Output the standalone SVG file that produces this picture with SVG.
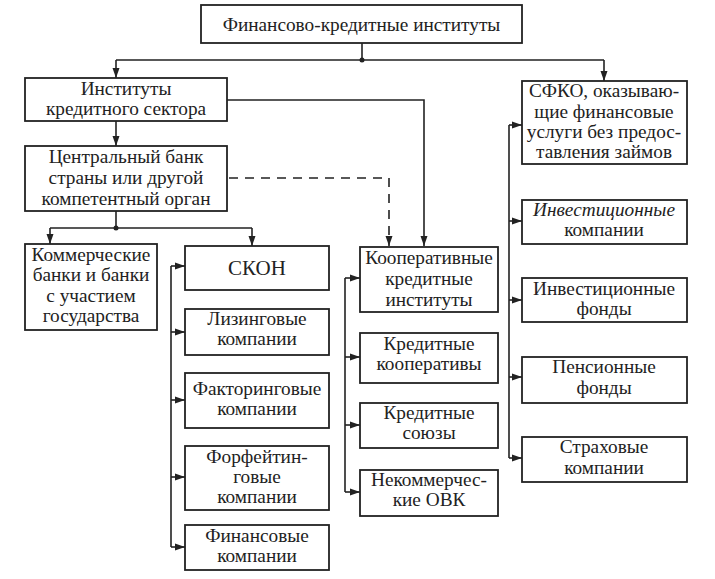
<svg xmlns="http://www.w3.org/2000/svg" width="715" height="579" viewBox="0 0 715 579">
<style>
rect.n{fill:#fff;stroke:#222;stroke-width:1.8}
.c path{fill:none;stroke:#222;stroke-width:1.6}
.c path.a{marker-end:url(#ah)}
.c path.d{stroke-dasharray:9 7}
</style>
<defs>
<marker id="ah" markerUnits="userSpaceOnUse" markerWidth="10" markerHeight="10" viewBox="0 0 10 10" refX="10" refY="5" orient="auto">
<path d="M0,1.5 L10,5 L0,8.5 Z" fill="#222"/>
</marker>
</defs>
<rect width="715" height="579" fill="#fff"/>
<g class="c" id="connectors">
<path d="M362,43 V60 M116,60 H604"/>
<path class="a" d="M116,60 V78"/>
<path class="a" d="M604,60 V81"/>
<circle cx="362" cy="60" r="2.5" fill="#222"/>
<path class="a" d="M227,100 H424 V246"/>
<path class="a" d="M116,121 V146"/>
<path class="a d" d="M229,178 H389 V246"/>
<path d="M116,211 V228 M50,228 H252"/>
<path class="a" d="M50,228 V244"/>
<path class="a" d="M252,228 V246"/>
<circle cx="116" cy="228" r="2.5" fill="#222"/>
<path d="M171,266 V547"/>
<path class="a" d="M171,266 H185"/>
<path class="a" d="M171,332 H185"/>
<path class="a" d="M171,400 H185"/>
<path class="a" d="M171,477 H185"/>
<path class="a" d="M171,547 H185"/>
<path d="M345,278 V492"/>
<path class="a" d="M345,278 H360"/>
<path class="a" d="M345,357 H360"/>
<path class="a" d="M345,425 H360"/>
<path class="a" d="M345,492 H360"/>
<path d="M509,125 V458"/>
<path class="a" d="M509,125 H522"/>
<path class="a" d="M509,221 H522"/>
<path class="a" d="M509,300 H522"/>
<path class="a" d="M509,377 H522"/>
<path class="a" d="M509,458 H522"/>
</g>
<g id="n-top"><rect class="n" x="201" y="5" width="321" height="38"/><text font-family="Liberation Serif" font-size="19.3" fill="#222" text-anchor="middle" x="361.5" y="31">Финансово-кредитные институты</text></g>
<g id="n-inst"><rect class="n" x="25" y="78" width="202" height="43"/><text font-family="Liberation Serif" font-size="19.3" fill="#222" text-anchor="middle" x="126" y="95">Институты</text><text font-family="Liberation Serif" font-size="19.3" fill="#222" text-anchor="middle" x="126" y="115">кредитного сектора</text></g>
<g id="n-cb"><rect class="n" x="25" y="146" width="202" height="65"/><text font-family="Liberation Serif" font-size="19.3" fill="#222" text-anchor="middle" x="126" y="163">Центральный банк</text><text font-family="Liberation Serif" font-size="19.3" fill="#222" text-anchor="middle" x="126" y="184">страны или другой</text><text font-family="Liberation Serif" font-size="19.3" fill="#222" text-anchor="middle" x="126" y="205">компетентный орган</text></g>
<g id="n-kom"><rect class="n" x="25" y="244" width="132" height="86"/><text font-family="Liberation Serif" font-size="19.3" fill="#222" text-anchor="middle" x="91" y="261">Коммерческие</text><text font-family="Liberation Serif" font-size="19.3" fill="#222" text-anchor="middle" x="91" y="281">банки и банки</text><text font-family="Liberation Serif" font-size="19.3" fill="#222" text-anchor="middle" x="91" y="302">с участием</text><text font-family="Liberation Serif" font-size="19.3" fill="#222" text-anchor="middle" x="91" y="322">государства</text></g>
<g id="n-skon"><rect class="n" x="185" y="246" width="144" height="44"/><text font-family="Liberation Serif" font-size="21" fill="#222" text-anchor="middle" x="257" y="275">СКОН</text></g>
<g id="n-liz"><rect class="n" x="185" y="309" width="144" height="46"/><text font-family="Liberation Serif" font-size="19.3" fill="#222" text-anchor="middle" x="257" y="325">Лизинговые</text><text font-family="Liberation Serif" font-size="19.3" fill="#222" text-anchor="middle" x="257" y="345">компании</text></g>
<g id="n-fak"><rect class="n" x="185" y="373" width="144" height="55"/><text font-family="Liberation Serif" font-size="19.3" fill="#222" text-anchor="middle" x="257" y="395">Факторинговые</text><text font-family="Liberation Serif" font-size="19.3" fill="#222" text-anchor="middle" x="257" y="415">компании</text></g>
<g id="n-for"><rect class="n" x="185" y="446" width="144" height="64"/><text font-family="Liberation Serif" font-size="19.3" fill="#222" text-anchor="middle" x="257" y="463">Форфейтин-</text><text font-family="Liberation Serif" font-size="19.3" fill="#222" text-anchor="middle" x="257" y="483">говые</text><text font-family="Liberation Serif" font-size="19.3" fill="#222" text-anchor="middle" x="257" y="503">компании</text></g>
<g id="n-fin"><rect class="n" x="185" y="525" width="144" height="45"/><text font-family="Liberation Serif" font-size="19.3" fill="#222" text-anchor="middle" x="257" y="542">Финансовые</text><text font-family="Liberation Serif" font-size="19.3" fill="#222" text-anchor="middle" x="257" y="562">компании</text></g>
<g id="n-koop"><rect class="n" x="360" y="247" width="138" height="65"/><text font-family="Liberation Serif" font-size="19.3" fill="#222" text-anchor="middle" x="429" y="264">Кооперативные</text><text font-family="Liberation Serif" font-size="19.3" fill="#222" text-anchor="middle" x="429" y="285">кредитные</text><text font-family="Liberation Serif" font-size="19.3" fill="#222" text-anchor="middle" x="429" y="306">институты</text></g>
<g id="n-kk"><rect class="n" x="360" y="333" width="138" height="50"/><text font-family="Liberation Serif" font-size="19.3" fill="#222" text-anchor="middle" x="429" y="350">Кредитные</text><text font-family="Liberation Serif" font-size="19.3" fill="#222" text-anchor="middle" x="429" y="370">кооперативы</text></g>
<g id="n-ks"><rect class="n" x="360" y="403" width="138" height="45"/><text font-family="Liberation Serif" font-size="19.3" fill="#222" text-anchor="middle" x="429" y="419">Кредитные</text><text font-family="Liberation Serif" font-size="19.3" fill="#222" text-anchor="middle" x="429" y="439">союзы</text></g>
<g id="n-ovk"><rect class="n" x="360" y="470" width="138" height="46"/><text font-family="Liberation Serif" font-size="19.3" fill="#222" text-anchor="middle" x="429" y="486">Некоммерчес-</text><text font-family="Liberation Serif" font-size="19.3" fill="#222" text-anchor="middle" x="429" y="506">кие ОВК</text></g>
<g id="n-sfko"><rect class="n" x="522" y="81" width="165" height="83"/><text font-family="Liberation Serif" font-size="19.3" fill="#222" text-anchor="middle" x="604" y="97">СФКО, оказываю-</text><text font-family="Liberation Serif" font-size="19.3" fill="#222" text-anchor="middle" x="604" y="118">щие финансовые</text><text font-family="Liberation Serif" font-size="19.3" fill="#222" text-anchor="middle" x="604" y="138">услуги без предос-</text><text font-family="Liberation Serif" font-size="19.3" fill="#222" text-anchor="middle" x="604" y="158">тавления займов</text></g>
<g id="n-ik"><rect class="n" x="522" y="200" width="165" height="44"/><text font-family="Liberation Serif" font-size="19.3" fill="#222" text-anchor="middle" font-style="italic" x="604" y="216">Инвестиционные</text><text font-family="Liberation Serif" font-size="19.3" fill="#222" text-anchor="middle" x="604" y="236">компании</text></g>
<g id="n-if"><rect class="n" x="522" y="278" width="165" height="44"/><text font-family="Liberation Serif" font-size="19.3" fill="#222" text-anchor="middle" x="604" y="295">Инвестиционные</text><text font-family="Liberation Serif" font-size="19.3" fill="#222" text-anchor="middle" x="604" y="315">фонды</text></g>
<g id="n-pf"><rect class="n" x="522" y="357" width="165" height="46"/><text font-family="Liberation Serif" font-size="19.3" fill="#222" text-anchor="middle" x="604" y="373">Пенсионные</text><text font-family="Liberation Serif" font-size="19.3" fill="#222" text-anchor="middle" x="604" y="394">фонды</text></g>
<g id="n-sk"><rect class="n" x="522" y="437" width="165" height="45"/><text font-family="Liberation Serif" font-size="19.3" fill="#222" text-anchor="middle" x="604" y="453">Страховые</text><text font-family="Liberation Serif" font-size="19.3" fill="#222" text-anchor="middle" x="604" y="474">компании</text></g>
</svg>
